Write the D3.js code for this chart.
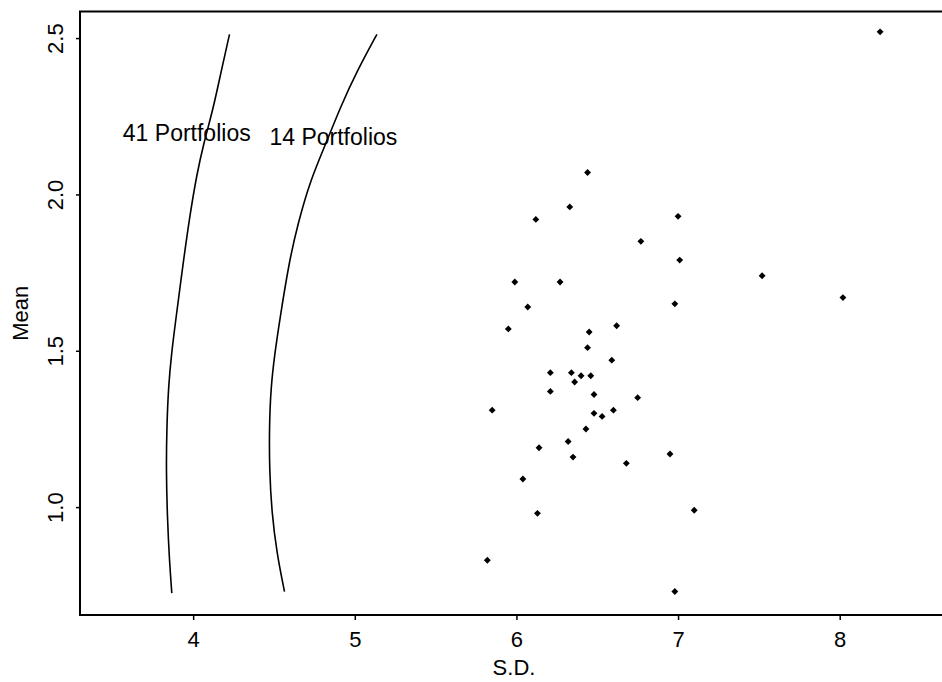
<!DOCTYPE html>
<html>
<head>
<meta charset="utf-8">
<script src="https://cdn.jsdelivr.net/npm/d3@7"></script>
<style>
  body { margin: 0; background: #fff; }
  svg { display: block; font-family: "Liberation Sans", Arial, Helvetica, sans-serif; }
</style>
</head>
<body>
<div id="chart"></div>
<script>
// frontier for 41 portfolios (S.D., Mean)
let front41_sd   = [3.868, 3.853, 3.841, 3.833, 3.837, 3.847, 3.866, 3.892, 3.940, 3.981, 4.023, 4.064, 4.126, 4.178, 4.225];
let front41_mean = [0.725, 0.831, 0.959, 1.118, 1.256, 1.384, 1.491, 1.597, 1.788, 1.937, 2.065, 2.161, 2.278, 2.405, 2.512];

// frontier for 14 portfolios
let front14_sd   = [4.565, 4.518, 4.487, 4.472, 4.471, 4.481, 4.505, 4.535, 4.595, 4.648, 4.724, 4.828, 4.910, 5.014, 5.137];
let front14_mean = [0.730, 0.852, 0.980, 1.118, 1.256, 1.384, 1.491, 1.597, 1.788, 1.906, 2.044, 2.171, 2.278, 2.395, 2.512];

// single portfolios
let point_sd = [6.44, 6.33, 6.12, 7.00, 6.77, 7.01, 5.99, 6.27, 6.07, 6.98,
    5.95, 6.45, 6.62, 6.44, 6.59, 6.21, 6.34, 6.40, 6.46, 6.36,
    6.21, 6.48, 6.75, 5.85, 6.48, 6.53, 6.60, 6.43, 6.32, 6.14,
    6.35, 6.68, 6.95, 6.04, 6.13, 7.10, 5.82, 6.98, 8.25, 7.52, 8.02];
let point_mean = [2.07, 1.96, 1.92, 1.93, 1.85, 1.79, 1.72, 1.72, 1.64, 1.65,
    1.57, 1.56, 1.58, 1.51, 1.47, 1.43, 1.43, 1.42, 1.42, 1.40,
    1.37, 1.36, 1.35, 1.31, 1.30, 1.29, 1.31, 1.25, 1.21, 1.19,
    1.16, 1.14, 1.17, 1.09, 0.98, 0.99, 0.83, 0.73, 2.52, 1.74, 1.67];

let x_ticks = [4, 5, 6, 7, 8];
let y_ticks = [1.0, 1.5, 2.0, 2.5];

let labels = ['41 Portfolios', '14 Portfolios'];
let label_sd = [3.565, 4.472];
let label_mean = [2.171, 2.159];

let width = 942, height = 682;
let m_left = 80, m_right = 948, m_top = 11.5, m_bottom = 615;

let svg = d3.select('#chart')
    .append('svg')
    .attr('width', width)
    .attr('height', height);

let x = d3.scaleLinear().domain([3.3, 8.67]).range([m_left, m_right]);
let y = d3.scaleLinear().domain([0.655, 2.585]).range([m_bottom, m_top]);

// frame
svg.append('rect')
    .attr('x', m_left)
    .attr('y', m_top)
    .attr('width', m_right - m_left)
    .attr('height', m_bottom - m_top)
    .attr('fill', 'none')
    .attr('stroke', '#000')
    .attr('stroke-width', 2);

// x axis
let xa = svg.append('g')
    .attr('transform', `translate(0,${m_bottom})`)
    .call(d3.axisBottom(x).tickValues(x_ticks).tickSize(5).tickFormat(d3.format('d')));
xa.select('.domain').remove();
xa.selectAll('line').attr('stroke-width', 1.5);
xa.selectAll('text')
    .attr('y', 32)
    .attr('dy', 0)
    .attr('font-size', 22)
    .attr('fill', '#000');
xa.attr('font-family', null).attr('font-size', null);

// y axis
let ya = svg.append('g')
    .attr('transform', `translate(${m_left},0)`)
    .call(d3.axisLeft(y).tickValues(y_ticks).tickSize(4).tickFormat(d3.format('.1f')));
ya.select('.domain').remove();
ya.selectAll('line').attr('stroke-width', 1.5);
ya.selectAll('text')
    .attr('transform', 'rotate(-90)')
    .attr('x', 0)
    .attr('y', -17)
    .attr('dy', 0)
    .attr('text-anchor', 'middle')
    .attr('font-size', 22)
    .attr('fill', '#000');
ya.attr('font-family', null).attr('font-size', null);

// axis titles
svg.append('text')
    .attr('x', (m_left + m_right) / 2)
    .attr('y', 675)
    .attr('text-anchor', 'middle')
    .attr('font-size', 22)
    .text('S.D.');
svg.append('text')
    .attr('transform', `translate(28,${(m_top + m_bottom) / 2}) rotate(-90)`)
    .attr('text-anchor', 'middle')
    .attr('font-size', 22)
    .text('Mean');

// frontiers
let line = d3.line()
    .curve(d3.curveBasis)
    .x(d => x(d[0]))
    .y(d => y(d[1]));

let fronts = [d3.zip(front41_sd, front41_mean), d3.zip(front14_sd, front14_mean)];
svg.append('g')
    .selectAll('path')
    .data(fronts)
    .join('path')
    .attr('d', line)
    .attr('fill', 'none')
    .attr('stroke', '#000')
    .attr('stroke-width', 1.6);

svg.append('g')
    .selectAll('text')
    .data(labels)
    .join('text')
    .attr('x', (d, i) => x(label_sd[i]))
    .attr('y', (d, i) => y(label_mean[i]))
    .attr('font-size', 23)
    .text(d => d);

// points
let diamond = d3.symbol().type(d3.symbolDiamond2).size(30);
svg.append('g')
    .selectAll('path')
    .data(d3.zip(point_sd, point_mean))
    .join('path')
    .attr('transform', d => `translate(${x(d[0])},${y(d[1])})`)
    .attr('d', diamond)
    .attr('fill', '#000');
</script>
</body>
</html>
